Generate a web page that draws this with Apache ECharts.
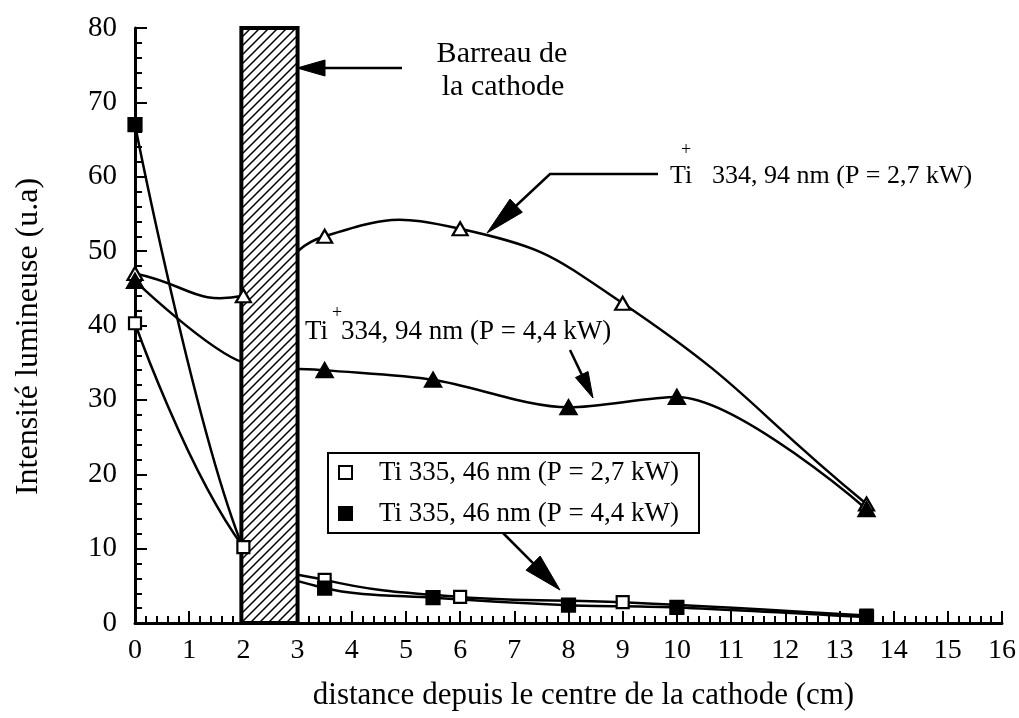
<!DOCTYPE html>
<html>
<head>
<meta charset="utf-8">
<script src="https://cdn.jsdelivr.net/npm/echarts@6/dist/echarts.min.js"></script>
<style>
html,body{margin:0;padding:0;background:#fff;}
#chart{width:1019px;height:718px;}
</style>
</head>
<body>
<div id="chart"></div>
<script>
// ---- data ----
const tiPlus27 = [[0, 47], [2, 44], [3.5, 52], [6, 53], [9, 43], [13.5, 16]];
const tiPlus44 = [[0, 46], [2, 35], [3.5, 34], [5.5, 32.7], [8, 29], [10, 30.4], [13.5, 15.3]];
const ti27 = [[0, 40.3], [2, 10.2], [3.5, 5.8], [6, 3.5], [9, 2.8], [13.5, 1]];
const ti44 = [[0, 67], [2, 10], [3.5, 4.7], [5.5, 3.4], [8, 2.4], [10, 2.1], [13.5, 0.8]];
// points hidden behind the cathode bar (no visible marker)
const hiddenMarkerX = 2;
const cathodeBar = [[2, 3, 80, 0]];
const seriesNames = {
  tiPlus27: 'Ti+ 334, 94 nm (P = 2,7 kW)',
  tiPlus44: 'Ti+ 334, 94 nm (P = 4,4 kW)',
  ti27: 'Ti 335, 46 nm (P = 2,7 kW)',
  ti44: 'Ti 335, 46 nm (P = 4,4 kW)'
};
const xTitle = 'distance depuis le centre de la cathode (cm)';
const yTitle = 'Intensité lumineuse (u.a)';

const FONT = "'Liberation Serif', 'Times New Roman', serif";

function hatchCanvas() {
  const s = 9;
  const c = document.createElement('canvas');
  c.width = s; c.height = s;
  const g = c.getContext('2d');
  g.fillStyle = '#fff'; g.fillRect(0, 0, s, s);
  g.strokeStyle = '#000'; g.lineWidth = 1.5;
  g.beginPath();
  g.moveTo(0, s); g.lineTo(s, 0);
  g.moveTo(-2, 2); g.lineTo(2, -2);
  g.moveTo(s - 2, s + 2); g.lineTo(s + 2, s - 2);
  g.stroke();
  return c;
}
const hatch = hatchCanvas();

function arrow(points, headLen, headHalf) {
  const n = points.length;
  const [x2, y2] = points[n - 1];
  const [x1, y1] = points[n - 2];
  const dx = x2 - x1, dy = y2 - y1, L = Math.hypot(dx, dy);
  const ux = dx / L, uy = dy / L;
  const bx = x2 - ux * headLen, by = y2 - uy * headLen;
  const left = [bx - uy * headHalf, by + ux * headHalf];
  const right = [bx + uy * headHalf, by - ux * headHalf];
  const linePts = points.slice(0, n - 1).concat([[bx + ux * 2, by + uy * 2]]);
  return [
    { type: 'polyline', silent: true, shape: { points: linePts }, style: { stroke: '#000', lineWidth: 2.5, fill: null } },
    { type: 'polygon', silent: true, shape: { points: [[x2, y2], left, right] }, style: { fill: '#000', stroke: '#000', lineWidth: 1 } }
  ];
}

function txt(text, x, y, size, align) {
  return { type: 'text', silent: true, x: x, y: y, z: 20,
    style: { text: text, fontSize: size, fontFamily: FONT, fill: '#000', align: align || 'left', verticalAlign: 'middle' } };
}

const lineStyleCommon = { color: '#000', width: 2.5 };

function lineSeries(name, data, smooth) {
  return { name: name + ' (courbe)', type: 'line', data: data, smooth: smooth, showSymbol: false,
    lineStyle: lineStyleCommon, itemStyle: { color: '#000' }, z: 2, silent: true };
}

// free (unclamped) smoothed curve through the data, drawn via the axes' scales
function splinePathData(pts, s) {
  const n = pts.length;
  const cps = pts.map((p, i) => {
    const prev = pts[Math.max(i - 1, 0)], next = pts[Math.min(i + 1, n - 1)];
    const vx = next[0] - prev[0], vy = next[1] - prev[1];
    const l0 = Math.hypot(p[0] - prev[0], p[1] - prev[1]);
    const l1 = Math.hypot(next[0] - p[0], next[1] - p[1]);
    const r = (l0 + l1) ? l1 / (l0 + l1) : 0.5;
    return { inn: [p[0] - vx * s * (1 - r), p[1] - vy * s * (1 - r)], out: [p[0] + vx * s * r, p[1] + vy * s * r] };
  });
  let d = 'M' + pts[0][0] + ' ' + pts[0][1];
  for (let i = 0; i < n - 1; i++) {
    d += ' C' + cps[i].out[0] + ' ' + cps[i].out[1] + ' ' + cps[i + 1].inn[0] + ' ' + cps[i + 1].inn[1] + ' ' + pts[i + 1][0] + ' ' + pts[i + 1][1];
  }
  return d;
}
function splineSeries(name, data, smooth) {
  return { name: name + ' (courbe)', type: 'custom', z: 2, silent: true,
    data: data,
    renderItem: function (params, api) {
      if (params.dataIndex !== 0) return null;
      const pix = data.map(d => api.coord(d));
      return { type: 'path', shape: { pathData: splinePathData(pix, smooth) },
        style: { fill: null, stroke: '#000', lineWidth: 2.5 } };
    }
  };
}

function markerSeries(name, data, symbol, filled, size, hideAtBar) {
  return { name: name, type: 'scatter', symbol: symbol, symbolSize: size,
    data: hideAtBar ? data.filter(d => d[0] !== hiddenMarkerX) : data,
    itemStyle: { color: filled ? '#000' : '#fff', borderColor: '#000', borderWidth: 2.2, opacity: 1 },
    z: 10, silent: true };
}

const chart = echarts.init(document.getElementById('chart'), null, { renderer: 'canvas' });

const option = {
  backgroundColor: '#fff',
  animation: false,
  grid: { left: 135, right: 17, top: 28, bottom: 95, containLabel: false },
  xAxis: {
    type: 'value', min: 0, max: 16, interval: 1,
    name: xTitle, nameLocation: 'middle', nameGap: 57,
    nameTextStyle: { fontSize: 31, fontFamily: FONT, color: '#000', padding: [0, 0, 0, 30] },
    axisLine: { show: true, onZero: false, lineStyle: { color: '#000', width: 3 } },
    axisTick: { show: true, inside: true, length: 12, lineStyle: { color: '#000', width: 2 } },
    minorTick: { show: true, splitNumber: 5, length: 7, lineStyle: { color: '#000', width: 2 } },
    axisLabel: { fontSize: 28, fontFamily: FONT, color: '#000', margin: 14 },
    splitLine: { show: false }
  },
  yAxis: {
    type: 'value', min: 0, max: 80, interval: 10,
    name: yTitle, nameLocation: 'middle', nameGap: 90, nameRotate: 90,
    nameTextStyle: { fontSize: 32, fontFamily: FONT, color: '#000', padding: [0, 22, 0, 0] },
    axisLine: { show: true, onZero: false, lineStyle: { color: '#000', width: 3 } },
    axisTick: { show: true, inside: true, length: 12, lineStyle: { color: '#000', width: 2 } },
    minorTick: { show: true, splitNumber: 5, length: 7, lineStyle: { color: '#000', width: 2 } },
    axisLabel: { fontSize: 29, fontFamily: FONT, color: '#000', margin: 18 },
    splitLine: { show: false }
  },
  legend: {
    data: [seriesNames.ti27, seriesNames.ti44],
    orient: 'vertical', left: 328, top: 453,
    borderColor: '#000', borderWidth: 2, borderRadius: 0,
    padding: [6, 20, 6, 10], itemGap: 14,
    itemWidth: 13, itemHeight: 13,
    backgroundColor: '#fff',
    textStyle: { fontSize: 27, fontFamily: FONT, color: '#000', padding: [0, 0, 0, 22] },
    selectedMode: false, z: 15
  },
  series: [
    splineSeries(seriesNames.tiPlus27, tiPlus27, 0.5),
    lineSeries(seriesNames.tiPlus44, tiPlus44, 0.3),
    lineSeries(seriesNames.ti27, ti27, 0.4),
    lineSeries(seriesNames.ti44, ti44, 0.3),
    {
      name: 'Barreau de la cathode', type: 'custom', z: 5, silent: true,
      clip: false,
      encode: { x: [0, 1], y: [2, 3] },
      data: cathodeBar,
      renderItem: function (params, api) {
        const p1 = api.coord([api.value(0), api.value(2)]);
        const p2 = api.coord([api.value(1), api.value(3)]);
        return { type: 'rect',
          shape: { x: p1[0] - 2, y: p1[1], width: p2[0] - p1[0] + 2, height: p2[1] - p1[1] },
          style: { fill: { image: hatch, repeat: 'repeat' }, stroke: '#000', lineWidth: 4 } };
      }
    },
    markerSeries(seriesNames.tiPlus27, tiPlus27, 'triangle', false, [15, 13], false),
    markerSeries(seriesNames.tiPlus44, tiPlus44, 'triangle', true, [16, 14], true),
    markerSeries(seriesNames.ti27, ti27, 'rect', false, 12, false),
    markerSeries(seriesNames.ti44, ti44, 'rect', true, 13, true)
  ],
  graphic: [
    txt('Barreau de', 502, 54, 30, 'center'),
    txt('la cathode', 503, 87, 30, 'center'),
    ...arrow([[402, 68], [297, 68]], 28, 8),
    txt('Ti', 670, 176, 26, 'left'),
    txt('+', 686, 150, 18, 'center'),
    txt('334, 94 nm (P = 2,7 kW)', 712, 176, 26, 'left'),
    ...arrow([[658, 174], [550, 174], [487, 233]], 40, 9),
    txt('Ti', 305, 332, 27, 'left'),
    txt('+', 337, 313, 18, 'center'),
    txt('334, 94 nm (P = 4,4 kW)', 341, 332, 27, 'left'),
    ...arrow([[570, 350], [593, 398]], 26, 7),
    ...arrow([[503, 533], [560, 590]], 38, 10)
  ]
};
chart.setOption(option);
</script>
</body>
</html>
